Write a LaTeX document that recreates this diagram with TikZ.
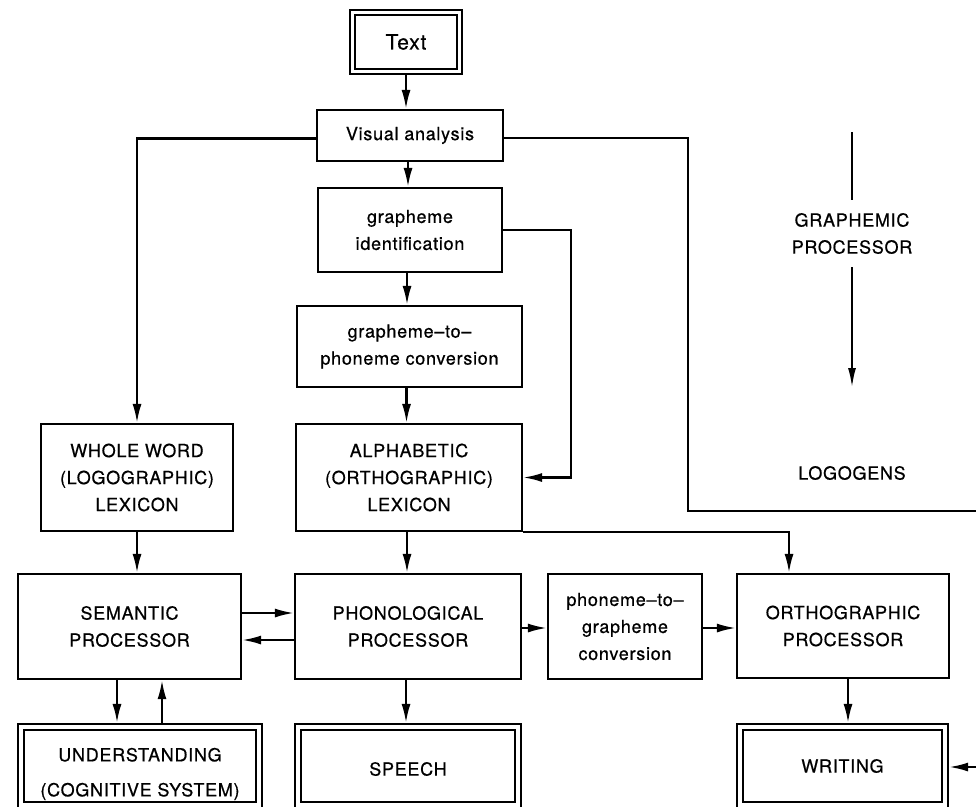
\documentclass[tikz,border=0pt]{standalone}
\usepackage{fontspec}
\setmainfont{TeX Gyre Heros}[LetterSpace=4,FakeBold=0.6]
\usetikzlibrary{arrows.meta,calc}
\begin{document}
\begin{tikzpicture}[x=1pt,y=-1pt,
  every node/.style={font=\fontsize{18}{27}\selectfont, align=center},
  box/.style n args={2}{draw, line width=2.2pt, minimum width=#1, minimum height=#2, inner sep=0pt},
  ln/.style={line width=2.2pt},
  arr/.style={line width=2.2pt, -{Latex[length=19pt,width=9pt]}},
  thinarr/.style={line width=1.8pt, -{Latex[length=19pt,width=8pt]}}]
\fill[white] (0,0) rectangle (976,806);
\useasboundingbox (0,0) rectangle (976,806);

% top column
\node[box={112}{64}, font=\fontsize{21}{27}\selectfont] (text) at (406,42) {Text};
\draw[ln] ($(text.north west)+(6,6)$) rectangle ($(text.south east)+(-6,-6)$);
\node[box={186}{51}] (visual) at (410,135.5) {Visual analysis};
\node[box={184}{84}] (gid) at (410,230) {grapheme\\identification};
\node[box={225}{81}] (g2p) at (409.5,346.5) {grapheme–to–\\phoneme conversion};
\node[box={192}{107}] (whole) at (137,477.5) {WHOLE WORD\\(LOGOGRAPHIC)\\LEXICON};
\node[box={226}{107}] (alpha) at (409,477.5) {ALPHABETIC\\(ORTHOGRAPHIC)\\LEXICON};

% processors
\node[box={223}{105}] (sem) at (129.5,626.5) {SEMANTIC\\PROCESSOR};
\node[box={226}{105}] (phon) at (408,626.5) {PHONOLOGICAL\\PROCESSOR};
\node[box={154}{105}] (p2g) at (625,626.5) {phoneme–to–\\grapheme\\conversion};
\node[box={212}{104}] (orth) at (843,626) {ORTHOGRAPHIC\\PROCESSOR};

% outputs
\node[box={244}{84}, label={[name=undtext, yshift=-8pt, font=\fontsize{18}{35}\selectfont, align=center]center:UNDERSTANDING\\(COGNITIVE SYSTEM)}] (und) at (140,766) {};
\draw[ln] ($(und.north west)+(7,7)$) rectangle ($(und.south east)+(-7,-7)$);
\node[box={226}{84}, label={[name=speechtext, yshift=-3pt]center:SPEECH}] (speech) at (408,766) {};
\draw[ln] ($(speech.north west)+(7,7)$) rectangle ($(speech.south east)+(-7,-7)$);
\node[box={211}{84}] (writing) at (842.5,766) {WRITING};
\draw[ln] ($(writing.north west)+(7,7)$) rectangle ($(writing.south east)+(-7,-7)$);

% right-hand labels
\node[minimum height=67pt, inner sep=0pt, outer sep=0pt] (gp) at (852,233.5) {GRAPHEMIC\\PROCESSOR};
\node (logo) at (852,473) {LOGOGENS};
\coordinate (gtop) at (852,132);
\coordinate (gbot) at (852,387);
\draw[line width=1.8pt] (gtop) -- (gp.north);
\draw[thinarr] (gp.south) -- (gbot);

% connectors
\draw[arr] (text.south) -- (text.south |- visual.north);
\draw[arr] ([yshift=-3pt]visual.west) -| (whole.north);
\coordinate (vr) at (688,511);
\coordinate (rend) at (976,511);
\draw[ln] ([yshift=-2.5pt]visual.east) -| (vr) -- (rend);
\draw[arr] ([xshift=-2pt]visual.south) -- ([xshift=-2pt]visual.south |- gid.north);
\draw[arr] ([xshift=-3pt]gid.south) -- ([xshift=-3pt]gid.south |- g2p.north);
\draw[arr] ([xshift=-3pt]g2p.south) -- ([xshift=-3pt]g2p.south |- alpha.north);
\draw[arr] (gid.east) -- ++(68,0) |- (alpha.east);
\draw[arr] ([xshift=-2pt]alpha.south) -- ([xshift=-2pt]alpha.south |- phon.north);
\draw[arr] (alpha.south east) -| ([xshift=-54pt]orth.north);
\draw[arr] (whole.south) -- (whole.south |- sem.north);
\draw[arr] ([yshift=13.5pt]sem.east) -- ([yshift=13.5pt]sem.east -| phon.west);
\draw[arr] ([yshift=-13.5pt]phon.west) -- ([yshift=-13.5pt]phon.west -| sem.east);
\draw[arr] ([yshift=-1.5pt]phon.east) -- ([yshift=-1.5pt]phon.east -| p2g.west);
\draw[arr] ([yshift=-1.5pt]p2g.east) -- ([yshift=-1.5pt]p2g.east -| orth.west);
\draw[arr] ([xshift=-12.5pt]sem.south) -- ([xshift=-12.5pt]sem.south |- und.north);
\draw[arr] ([xshift=32.5pt]sem.south |- und.north) -- ([xshift=32.5pt]sem.south);
\draw[arr] ([xshift=-2pt]phon.south) -- ([xshift=-2pt]phon.south |- speech.north);
\draw[arr] ([xshift=5pt]orth.south) -- ([xshift=5pt]orth.south |- writing.north);
\coordinate (wr) at (976,767);
\draw[arr] (wr) -- (wr -| writing.east);
\end{tikzpicture}
\end{document}
